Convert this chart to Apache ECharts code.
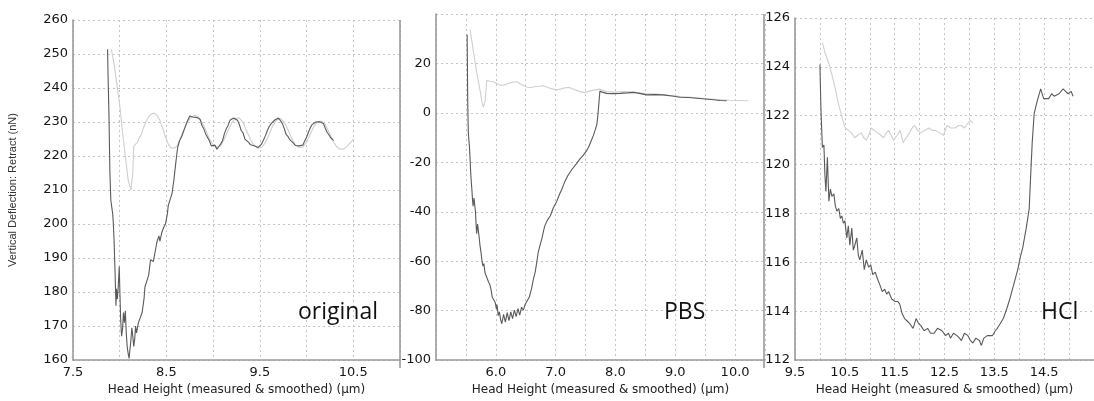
<!DOCTYPE html>
<html>
<head>
<meta charset="utf-8">
<script src="https://cdn.jsdelivr.net/npm/echarts@6/dist/echarts.min.js"></script>
<style>
  html, body { margin: 0; padding: 0; background: #fff; }
  #chart { width: 1094px; height: 401px; }
</style>
</head>
<body>
<div id="chart"></div>
<script>
// Force curves, [head height (µm), deflection (nN)]
const panelNames = ['original', 'PBS', 'HCl'];
const xTitle = 'Head Height (measured & smoothed) (µm)';
const yTitle = 'Vertical Deflection: Retract (nN)';

// --- original ---
const originalApproach = [
  [7.91,251.4],[7.94,247],[7.97,241],[8.00,235],[8.03,227],[8.06,220],[8.09,213],[8.12,210],[8.13,209.8],
  [8.14,215],[8.15,223],[8.17,222.5],[8.19,224],[8.21,225.5],[8.23,226.2],[8.25,228],[8.28,230],[8.31,231.6],
  [8.34,232.4],[8.37,232.6],[8.40,232],[8.43,230.5],[8.46,228.2],[8.49,225.5],[8.52,223.5],[8.55,222.4],
  [8.58,222.3],[8.61,222.8],[8.64,224.5],[8.68,227.3],[8.72,229.8],[8.76,231.3],[8.80,232],[8.84,231.6],
  [8.88,230],[8.92,227.7],[8.96,225],[9.00,223.3],[9.04,222.6],[9.08,223],[9.12,225],[9.16,227.5],[9.20,229.8],
  [9.24,231.1],[9.28,231.2],[9.32,229.8],[9.36,227.3],[9.40,224.8],[9.44,223],[9.48,222.3],[9.52,222.5],
  [9.56,224],[9.60,226.5],[9.64,229],[9.68,230.6],[9.72,231],[9.76,230],[9.80,227.8],[9.84,225.2],[9.88,223.3],
  [9.92,222.5],[9.96,222.6],[10.00,224],[10.04,226.5],[10.08,228.8],[10.12,230.1],[10.16,230.3],[10.20,229.3],
  [10.24,227],[10.28,224.5],[10.32,222.8],[10.36,222],[10.40,222.1],[10.44,223],[10.48,224.3],[10.51,225]
];
const originalRetract = [
  [7.87,251.4],[7.875,244],[7.885,232],[7.895,215],[7.905,207],[7.915,205],[7.925,203],[7.93,201],[7.94,195],
  [7.95,186],[7.96,176],[7.965,181],[7.975,178],[7.985,182],[7.995,187.5],[8.0,182],[8.01,172],[8.02,167],
  [8.03,169],[8.04,174],[8.05,171],[8.06,174.5],[8.07,168],[8.08,164],[8.09,162],[8.10,160.5],[8.11,161],
  [8.12,166],[8.13,169.5],[8.14,167],[8.15,164],[8.16,166],[8.17,170],[8.18,168],[8.20,171],[8.22,172.5],
  [8.24,174],[8.26,178],[8.27,181.5],[8.29,182],[8.31,185],[8.33,189.5],[8.35,190],[8.36,189],[8.38,192],
  [8.40,195],[8.42,196.5],[8.43,195],[8.45,197.5],[8.47,199],[8.49,200],[8.51,203],[8.52,205.5],[8.54,205],
  [8.56,209],[8.58,213],[8.60,218],[8.62,222.5],[8.64,224.5],[8.66,225.5],[8.68,227],[8.70,228.5],[8.72,230],
  [8.75,231.8],[8.78,231.5],[8.80,232],[8.83,231.3],[8.86,230.8],[8.88,229],[8.90,228],[8.92,226.5],[8.94,226],
  [8.96,224.5],[8.98,223],[9.00,222.8],[9.02,223.2],[9.04,222],[9.06,222.8],[9.08,223.5],[9.10,224.5],
  [9.12,226.5],[9.14,228],[9.16,229],[9.18,230.5],[9.20,230.3],[9.22,231.2],[9.24,231.4],[9.26,230.5],
  [9.28,229.3],[9.30,227.5],[9.32,226.8],[9.34,225],[9.36,224.6],[9.38,224],[9.40,223.3],[9.42,223.8],
  [9.44,223],[9.46,222.6],[9.48,222.5],[9.50,222.8],[9.52,223.6],[9.54,224.8],[9.56,226],[9.58,227.5],
  [9.60,228.7],[9.62,229.5],[9.64,230],[9.66,230.6],[9.68,230.7],[9.70,231.2],[9.72,230.8],[9.74,229.6],
  [9.76,228.2],[9.78,226.4],[9.80,225.8],[9.82,224.8],[9.84,224.6],[9.86,223.8],[9.88,223.1],[9.90,222.8],
  [9.92,223],[9.94,222.6],[9.96,223.2],[9.98,224.4],[10.00,225.5],[10.02,227],[10.04,228.3],[10.06,229.3],
  [10.08,229.6],[10.10,230],[10.12,230.2],[10.14,230.1],[10.16,230.3],[10.18,229.6],[10.20,228.2],[10.22,227],
  [10.24,226.2],[10.26,225.3],[10.28,225],[10.29,224.6]
];

// --- PBS ---
const pbsApproach = [
  [5.57,33.7],[5.62,25.8],[5.68,16.5],[5.74,8.6],[5.77,4],[5.79,2.3],[5.82,4.6],[5.85,13.2],[5.90,12.8],
  [5.96,12.6],[6.02,11.8],[6.08,11.2],[6.13,11.2],[6.20,11.8],[6.28,12.4],[6.35,12.6],[6.42,11.6],[6.50,10.6],
  [6.57,10.2],[6.64,10.6],[6.72,10.8],[6.79,11],[6.86,10.4],[6.94,9.7],[7.02,9.3],[7.10,9.8],[7.17,10.2],
  [7.24,10.2],[7.32,9.4],[7.40,8.6],[7.49,8.2],[7.56,8.8],[7.64,9.2],[7.74,9.6],[7.85,8.6],[8.00,8.4],
  [8.15,8.6],[8.30,8.4],[8.50,7.8],[8.70,7.6],[8.90,7],[9.10,6.6],[9.30,6.2],[9.50,5.8],[9.70,5.4],
  [9.90,5.1],[10.05,5],[10.22,4.9]
];
const pbsRetract = [
  [5.52,31.7],[5.525,20],[5.53,5],[5.54,-8],[5.55,-11],[5.56,-13.9],[5.57,-19],[5.58,-24],[5.59,-28],
  [5.60,-31],[5.61,-35],[5.62,-37.7],[5.635,-34.5],[5.65,-33.7],[5.66,-40],[5.67,-45],[5.68,-48.9],
  [5.695,-45],[5.71,-45.6],[5.72,-50],[5.735,-53.5],[5.75,-56],[5.76,-56.2],[5.77,-60],[5.785,-62],
  [5.80,-61],[5.82,-64.8],[5.84,-66],[5.86,-65.5],[5.88,-68.5],[5.90,-69.4],[5.92,-71.5],[5.94,-74.5],
  [5.96,-74],[5.99,-76.7],[6.01,-79.4],[6.02,-77.5],[6.04,-82],[6.06,-80.5],[6.08,-83.5],[6.10,-85.3],
  [6.13,-81.5],[6.16,-84.6],[6.19,-80.8],[6.22,-84],[6.25,-80.5],[6.28,-83.2],[6.31,-79.8],[6.34,-82.4],
  [6.37,-79.2],[6.40,-81.8],[6.43,-78.6],[6.46,-79.8],[6.49,-77.5],[6.52,-78],[6.56,-74.5],[6.60,-70.8],
  [6.63,-67],[6.66,-64.2],[6.69,-59.5],[6.71,-56.2],[6.74,-53.5],[6.77,-50.9],[6.80,-47.5],[6.82,-45.6],
  [6.86,-43.5],[6.91,-41.7],[6.96,-38.5],[7.02,-35.7],[7.06,-33.2],[7.10,-31.1],[7.15,-28],[7.21,-25.1],
  [7.28,-22.6],[7.35,-20.5],[7.40,-18.8],[7.46,-17.2],[7.51,-15.6],[7.55,-13.9],[7.59,-11.6],[7.63,-9.2],
  [7.66,-7],[7.69,-4.6],[7.71,0],[7.73,6],[7.74,8.8],[7.78,8.4],[7.85,7.9],[7.95,7.8],[8.08,7.9],
  [8.20,8.1],[8.30,8.3],[8.40,7.9],[8.52,7.3],[8.65,7.4],[8.80,7.3],[8.95,6.8],[9.08,6.3],[9.22,6.2],
  [9.36,5.9],[9.50,5.6],[9.64,5.3],[9.75,5],[9.86,4.9]
];

// --- HCl ---
const hclApproach = [
  [10.05,125],[10.10,124.6],[10.15,124.3],[10.20,124],[10.25,123.6],[10.31,123.1],[10.36,122.6],[10.41,122.2],
  [10.46,121.8],[10.51,121.5],[10.57,121.4],[10.63,121.3],[10.70,121.1],[10.76,121.2],[10.83,121.3],
  [10.88,121.1],[10.93,121],[10.98,121.2],[11.03,121.5],[11.09,121.4],[11.16,121.3],[11.22,121.2],
  [11.28,121.1],[11.33,121.3],[11.38,121.4],[11.43,121.2],[11.48,121],[11.55,121.2],[11.61,121.4],
  [11.67,120.9],[11.73,121.1],[11.80,121.3],[11.85,121.5],[11.90,121.6],[11.96,121.4],[12.03,121.3],
  [12.10,121.4],[12.19,121.5],[12.25,121.4],[12.32,121.4],[12.40,121.3],[12.48,121.2],[12.55,121.6],
  [12.63,121.5],[12.71,121.5],[12.78,121.6],[12.84,121.6],[12.90,121.5],[12.97,121.7],[13.02,121.8],
  [13.07,121.7]
];
const hclRetract = [
  [10.0,124.1],[10.02,122.3],[10.04,121.2],[10.05,120.7],[10.08,120.8],[10.10,119.6],[10.12,118.9],
  [10.15,120.3],[10.18,118.5],[10.21,119],[10.24,118.7],[10.28,118.8],[10.31,118.3],[10.34,118.1],
  [10.38,118.2],[10.41,117.8],[10.44,117.9],[10.47,117.6],[10.50,117.7],[10.54,117],[10.57,117.5],
  [10.60,116.7],[10.64,117.4],[10.67,116.5],[10.70,116.7],[10.74,117],[10.77,116.3],[10.80,116.1],
  [10.85,116.5],[10.89,115.7],[10.93,116.1],[10.98,115.8],[11.02,115.9],[11.06,115.5],[11.11,115.6],
  [11.16,115.3],[11.20,115.1],[11.25,114.8],[11.30,114.9],[11.34,114.7],[11.38,114.8],[11.44,114.5],
  [11.51,114.4],[11.56,114.4],[11.60,114.3],[11.65,113.9],[11.70,113.7],[11.75,113.6],[11.80,113.5],
  [11.87,113.3],[11.93,113.7],[11.98,113.5],[12.03,113.4],[12.09,113.2],[12.16,113.3],[12.22,113.1],
  [12.29,113.1],[12.36,113.3],[12.45,113.2],[12.52,113],[12.58,113.1],[12.62,112.9],[12.68,113.1],
  [12.75,113],[12.80,112.9],[12.84,112.8],[12.90,113.1],[12.97,113],[13.02,112.8],[13.07,112.7],
  [13.13,112.9],[13.20,112.8],[13.24,112.6],[13.29,112.9],[13.36,113],[13.46,113],[13.52,113.2],
  [13.56,113.3],[13.62,113.5],[13.68,113.7],[13.75,114.1],[13.81,114.5],[13.89,115.1],[13.97,115.7],
  [14.02,116.2],[14.07,116.6],[14.14,117.4],[14.20,118.2],[14.23,119.6],[14.26,120.9],[14.30,122.1],
  [14.36,122.6],[14.43,123.1],[14.49,122.7],[14.54,122.7],[14.59,122.7],[14.65,122.9],[14.70,122.8],
  [14.74,122.8],[14.80,122.9],[14.88,123.1],[14.93,123],[14.98,122.9],[15.04,123],[15.08,122.8]
];

const tickFont = { fontFamily: 'DejaVu Sans', fontSize: 13, color: '#151515' };
const axisLineStyle = { color: '#9a9a9a', width: 1.6 };
const gridLineStyle = { color: '#c4c4c4', width: 1, type: [2, 3] };

function near(a, b) { return Math.abs(a - b) < 1e-6; }
function stepLabel(start, from) {
  return function (v) {
    const k = (v - start);
    if (v < from - 1e-6) return '';
    return near(k, Math.round(k)) ? v.toFixed(1) : '';
  };
}

function xAxisFor(gridIndex, min, max, start, from) {
  return {
    type: 'value', gridIndex, min, max, interval: 0.5,
    name: xTitle, nameLocation: 'middle', nameGap: 20,
    nameTextStyle: { fontFamily: 'DejaVu Sans', fontSize: 12, color: '#222' },
    axisLine: { show: true, onZero: false, lineStyle: axisLineStyle },
    axisTick: { show: false },
    axisLabel: Object.assign({ margin: 6, hideOverlap: false, showMinLabel: true, showMaxLabel: false,
      formatter: stepLabel(start, from) }, tickFont),
    splitLine: { show: true, lineStyle: gridLineStyle }
  };
}

function yAxisFor(gridIndex, min, max, interval, extra) {
  return Object.assign({
    type: 'value', gridIndex, min, max, interval,
    axisLine: { show: true, onZero: false, lineStyle: axisLineStyle },
    axisTick: { show: false },
    axisLabel: Object.assign({ margin: 5, hideOverlap: false, showMinLabel: true }, tickFont),
    splitLine: { show: true, lineStyle: gridLineStyle }
  }, extra || {});
}

function curve(data, idx, color, z) {
  return {
    type: 'line', xAxisIndex: idx, yAxisIndex: idx, data,
    showSymbol: false, symbol: 'none', smooth: false, silent: true, z,
    lineStyle: { color, width: 1.1 }
  };
}

const chart = echarts.init(document.getElementById('chart'), null, { renderer: 'canvas' });
chart.setOption({
  animation: false,
  backgroundColor: '#fff',
  grid: [
    { left: 73, top: 20, width: 327, height: 348 },
    { left: 436, top: 14, width: 329, height: 354 },
    { left: 795, top: 18, width: 308, height: 350 }
  ],
  xAxis: [
    xAxisFor(0, 7.5, 11.0, 7.5, 7.5),
    xAxisFor(1, 5.0, 10.5, 6.0, 6.0),
    xAxisFor(2, 9.5, 15.5, 9.5, 9.5)
  ],
  yAxis: [
    yAxisFor(0, 160, 260, 10, {
      name: yTitle, nameLocation: 'middle', nameGap: 55,
      nameTextStyle: { fontFamily: 'Liberation Sans', fontSize: 11, color: '#333' }
    }),
    yAxisFor(1, -100, 40, 20, { axisLabel: Object.assign({ margin: 5, hideOverlap: false,
      formatter: function (v) { return v >= 40 ? '' : String(v); } }, tickFont) }),
    yAxisFor(2, 112, 126, 2)
  ],
  graphic: [
    { type: 'line', shape: { x1: 400, y1: 20, x2: 400, y2: 368 }, style: { stroke: '#9a9a9a', lineWidth: 1.6 }, z: 10 },
    { type: 'line', shape: { x1: 764, y1: 14, x2: 764, y2: 368 }, style: { stroke: '#9a9a9a', lineWidth: 1.6 }, z: 10 },
    { type: 'text', left: 298, top: 301, style: { text: panelNames[0], font: '23px "Open Sans"', fill: '#111' }, z: 10 },
    { type: 'text', left: 664, top: 301, style: { text: panelNames[1], font: '23px "Open Sans"', fill: '#111' }, z: 10 },
    { type: 'text', left: 1041, top: 301, style: { text: panelNames[2], font: '23px "Open Sans"', fill: '#111' }, z: 10 }
  ],
  series: [
    curve(originalApproach, 0, '#cfcfcf', 2),
    curve(originalRetract, 0, '#5a5a5a', 3),
    curve(pbsApproach, 1, '#cfcfcf', 2),
    curve(pbsRetract, 1, '#5a5a5a', 3),
    curve(hclApproach, 2, '#cfcfcf', 2),
    curve(hclRetract, 2, '#5a5a5a', 3)
  ]
});
</script>
</body>
</html>
